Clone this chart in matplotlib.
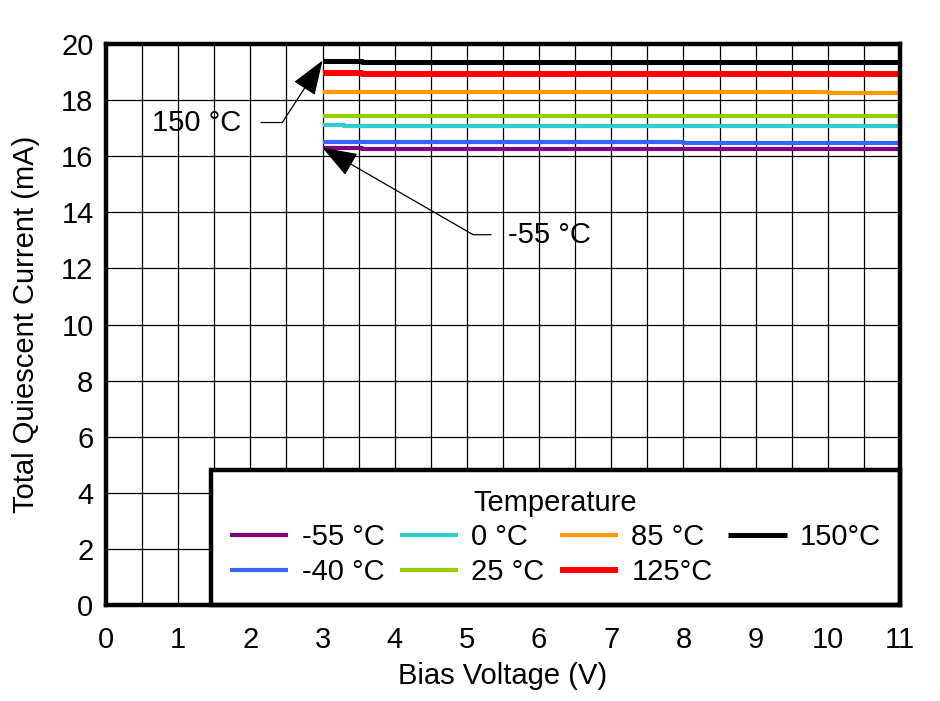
import matplotlib
matplotlib.use("Agg")
import matplotlib.pyplot as plt
import numpy as np

plt.rcParams['font.family'] = ['Liberation Sans', 'DejaVu Sans']
plt.rcParams['font.size'] = 21

# bias voltage (V) break points, currents drawn as steps
bias = [3.0, 3.3, 3.55, 4, 5, 6, 7, 8, 9, 10, 11]
i_m55 = [16.30, 16.30, 16.27, 16.27, 16.27, 16.27, 16.27, 16.27, 16.27, 16.27, 16.27]
i_m40 = [16.51, 16.51, 16.51, 16.51, 16.51, 16.51, 16.51, 16.48, 16.48, 16.48, 16.48]
i_0 = [17.11, 17.09, 17.09, 17.09, 17.09, 17.09, 17.09, 17.09, 17.09, 17.09, 17.09]
i_25 = [17.44, 17.44, 17.44, 17.44, 17.44, 17.44, 17.44, 17.44, 17.44, 17.44, 17.44]
i_85 = [18.30, 18.30, 18.30, 18.30, 18.30, 18.30, 18.30, 18.30, 18.30, 18.26, 18.26]
i_125 = [18.97, 18.97, 18.94, 18.94, 18.94, 18.94, 18.94, 18.94, 18.94, 18.94, 18.94]
i_150 = [19.41, 19.41, 19.36, 19.36, 19.36, 19.36, 19.36, 19.36, 19.36, 19.36, 19.36]

labels = ['-55 °C', '-40 °C', '0 °C', '25 °C', '85 °C', '125°C', '150°C']
series = [i_m55, i_m40, i_0, i_25, i_85, i_125, i_150]
colors = ['#800080', '#3366FF', '#33CCCC', '#99CC00', '#FF9900', '#FF0000', '#000000']
widths = [3.0, 3.0, 3.0, 3.0, 3.0, 4.3, 3.6]

fig = plt.figure(figsize=(9.4, 7.01), dpi=100)
ax = fig.add_axes([106/940, 96/701, 794/940, 561/701])

for y, c, lw, lab in zip(series, colors, widths, labels):
    ax.plot(bias, y, drawstyle='steps-post', color=c, lw=lw, label=lab,
            solid_capstyle='butt', zorder=3)

ax.set_xlim(0, 11)
ax.set_ylim(0, 20)
ax.set_xticks(np.arange(0, 12, 1))
ax.set_xticks(np.arange(0, 11.5, 0.5), minor=True)
ax.set_yticks(np.arange(0, 21, 2))
ax.grid(True, which='both', axis='x', color='black', lw=0.9)
ax.grid(True, which='major', axis='y', color='black', lw=0.9)
ax.tick_params(which='both', length=0)
ax.tick_params(axis='y', pad=9)
ax.tick_params(axis='x', pad=15)
for s in ax.spines.values():
    s.set_linewidth(3.2)
    s.set_zorder(5)

ax.set_xlabel('Bias Voltage (V)', labelpad=6)
ax.set_ylabel('Total Quiescent Current (mA)', labelpad=15)

# annotations
ax.annotate('150 °C', xy=(bias[0], i_150[0]), xytext=(1.26, 17.2),
            va='center', ha='center', zorder=6,
            arrowprops=dict(arrowstyle='-|>,head_length=1.1,head_width=0.4',
                            connectionstyle='angle,angleA=0,angleB=57,rad=0',
                            color='black', lw=0.9, mutation_scale=20,
                            relpos=(1, 0.5), shrinkA=12, shrinkB=0))
ax.annotate('-55 °C', xy=(bias[0], i_m55[0]), xytext=(6.14, 13.2),
            va='center', ha='center', zorder=6,
            arrowprops=dict(arrowstyle='-|>,head_length=1.1,head_width=0.4',
                            connectionstyle='angle,angleA=0,angleB=-30,rad=0',
                            color='black', lw=0.9, mutation_scale=20,
                            relpos=(0, 0.5), shrinkA=10, shrinkB=0))

leg = ax.legend(title='Temperature', ncol=4, loc='lower left',
                bbox_to_anchor=(0.132, 0, 0.868, 0.2424), mode='expand',
                borderaxespad=0, fancybox=False,
                framealpha=1, edgecolor='black', handlelength=2.0,
                handletextpad=0.45, columnspacing=0.6, labelspacing=0.22,
                borderpad=0.66, fontsize=21, title_fontsize=21)
leg.get_frame().set_linewidth(3.2)
leg.set_zorder(4)

fig.savefig('out.png', dpi=100)
